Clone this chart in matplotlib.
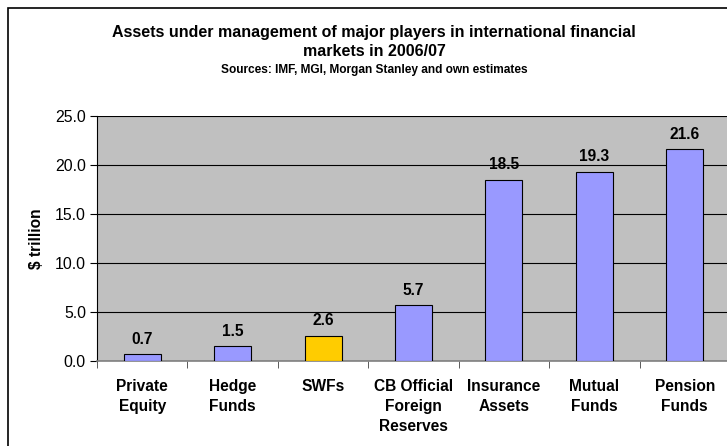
import matplotlib
matplotlib.use("Agg")
import matplotlib.pyplot as plt
from matplotlib.patches import Rectangle

categories = ["Private\nEquity", "Hedge\nFunds", "SWFs", "CB Official\nForeign\nReserves",
              "Insurance\nAssets", "Mutual\nFunds", "Pension\nFunds"]
values = [0.7, 1.5, 2.6, 5.7, 18.5, 19.3, 21.6]
colors = ["#9999FF", "#9999FF", "#FFCC00", "#9999FF", "#9999FF", "#9999FF", "#9999FF"]
yticks = [0, 5, 10, 15, 20, 25]

plt.rcParams['font.family'] = ['Liberation Sans', 'DejaVu Sans']

W, H = 727, 446
fig = plt.figure(figsize=(W / 100, H / 100), dpi=100)

# outer chart frame (extends past right and bottom edges)
fig.patches.append(Rectangle((8 / W, -0.1), 1.2, 1 - 8 / H + 0.1, transform=fig.transFigure,
                             fill=False, edgecolor="black", linewidth=1.2))

left, right, top, bottom = 97, 730, 116, 361
ax = fig.add_axes([left / W, 1 - bottom / H, (right - left) / W, (bottom - top) / H])
ax.set_facecolor("#C0C0C0")

x = list(range(len(values)))
ax.bar(x, values, width=0.41, color=colors, edgecolor="black", linewidth=0.8, zorder=3)
ax.set_xlim(-0.5, len(values) - 0.5)
ax.set_ylim(0, 25)
ax.set_yticks(yticks)
ax.set_yticklabels([f"{v:.1f}" for v in yticks], fontsize=11.4)
ax.yaxis.grid(True, color="black", linewidth=0.8, zorder=1)
ax.set_axisbelow(True)

ax.set_xticks([i + 0.5 for i in x[:-1]] + [-0.5], minor=True)
ax.set_xticks(x)
ax.set_xticklabels(categories, fontsize=11.2, fontweight="bold", linespacing=1.43)
ax.tick_params(axis="x", which="major", length=0, pad=13)
ax.tick_params(axis="x", which="minor", length=5, color="#404040")
ax.tick_params(axis="y", length=5, pad=3)

for s in ["top", "right"]:
    ax.spines[s].set_visible(False)
ax.spines["bottom"].set_color("#808080")
ax.spines["bottom"].set_linewidth(1.2)
ax.spines["left"].set_color("black")

for xi, v in zip(x, values):
    ax.annotate(f"{v:.1f}", (xi, v), xytext=(0, 5.5), textcoords="offset points",
                ha="center", va="bottom", fontsize=11.2, fontweight="bold")

ax.set_ylabel("$ trillion", fontsize=11.2, fontweight="bold", labelpad=8)

fig.text(374 / W, 1 - 32 / H, "Assets under management of major players in international financial",
         ha="center", va="center", fontsize=11.5, fontweight="bold")
fig.text(374 / W, 1 - 52 / H, "markets in 2006/07",
         ha="center", va="center", fontsize=11.5, fontweight="bold")
fig.text(374 / W, 1 - 70 / H, "Sources: IMF, MGI, Morgan Stanley and own estimates",
         ha="center", va="center", fontsize=8.6, fontweight="bold")

fig.savefig("out.png", dpi=100)
